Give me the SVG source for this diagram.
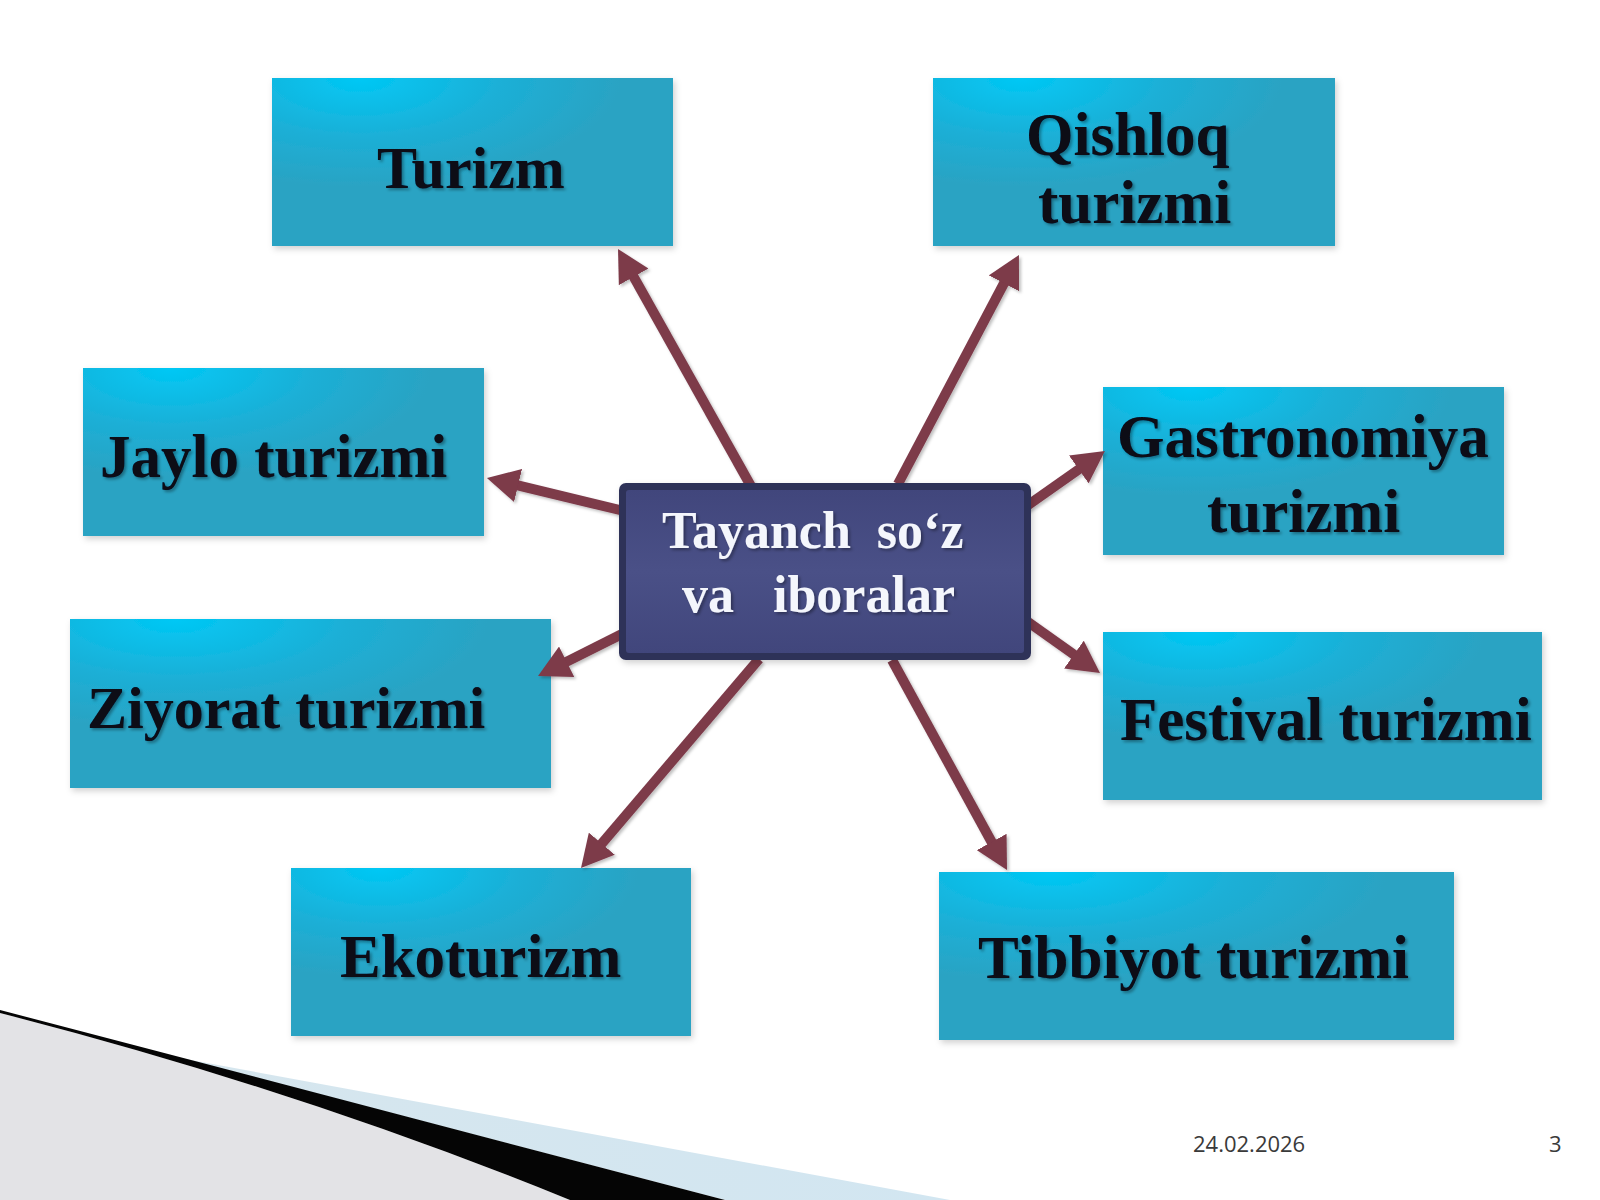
<svg xmlns="http://www.w3.org/2000/svg" width="1600" height="1200" viewBox="0 0 1600 1200">
  <defs>
    <radialGradient id="boxGrad" cx="0.22" cy="0" r="0.65" fx="0.22" fy="0">
      <stop offset="0" stop-color="#00C8F5"/>
      <stop offset="0.55" stop-color="#1CAFD6"/>
      <stop offset="1" stop-color="#2AA3C3"/>
    </radialGradient>
    <linearGradient id="centerGrad" x1="0" y1="0" x2="0" y2="1">
      <stop offset="0" stop-color="#41467C"/>
      <stop offset="0.5" stop-color="#4A5087"/>
      <stop offset="1" stop-color="#41467C"/>
    </linearGradient>
    <linearGradient id="blueSwoosh" x1="0" y1="0" x2="1" y2="0">
      <stop offset="0" stop-color="#d6e6ee"/>
      <stop offset="1" stop-color="#d2e6f1"/>
    </linearGradient>
    <filter id="boxShadow" x="-5%" y="-5%" width="112%" height="115%">
      <feDropShadow dx="2" dy="3" stdDeviation="3" flood-color="#000" flood-opacity="0.18"/>
    </filter>
    <filter id="textShadow" x="-5%" y="-20%" width="110%" height="140%">
      <feDropShadow dx="2" dy="2" stdDeviation="1.5" flood-color="#000" flood-opacity="0.35"/>
    </filter>
    <filter id="arrowShadow" x="-20%" y="-20%" width="140%" height="140%">
      <feDropShadow dx="2" dy="2" stdDeviation="1.5" flood-color="#000" flood-opacity="0.25"/>
    </filter>
    <marker id="head" viewBox="0 0 32 34" refX="12" refY="17" markerWidth="32" markerHeight="34" markerUnits="userSpaceOnUse" orient="auto">
      <path d="M0,0 L32,17 L0,34 Z" fill="#7D3A4A"/>
    </marker>
    <style>
      .box { fill: url(#boxGrad); filter: url(#boxShadow); }
      .lbl { font-family: "Liberation Serif", "Times New Roman", serif; font-weight: bold; font-size: 61px; fill: #080818; filter: url(#textShadow); }
      .clbl { font-family: "Liberation Serif", "Times New Roman", serif; font-weight: bold; font-size: 52px; fill: #F4F6FC; filter: url(#textShadow); }
      .conn { stroke: #7D3A4A; stroke-width: 10; fill: none; marker-end: url(#head); }
      .foot { font-family: "Open Sans", "Noto Sans", sans-serif; font-size: 22px; fill: #3a3a3a; }
    </style>
  </defs>

  <rect x="0" y="0" width="1600" height="1200" fill="#ffffff"/>

  <!-- bottom-left decoration -->
  <g id="decoration">
    <path d="M0,1013 Q300,1090 570,1200 L0,1200 Z" fill="#e3e3e6"/>
    <path d="M180,1058 L950,1200 L725,1200 Z" fill="url(#blueSwoosh)"/>
    <path d="M0,1010 L725,1200 L570,1200 Q300,1090 0,1013 Z" fill="#050505"/>
  </g>

  <g id="node-turizm">
    <rect class="box" x="272" y="78" width="401" height="168"/>
    <text class="lbl" x="377" y="188" style="font-size:60px">Turizm</text>
  </g>
  <g id="node-qishloq">
    <rect class="box" x="933" y="78" width="402" height="168"/>
    <text class="lbl" x="1026" y="155">Qishloq</text>
    <text class="lbl" x="1038" y="223">turizmi</text>
  </g>
  <g id="node-jaylo">
    <rect class="box" x="83" y="368" width="401" height="168"/>
    <text class="lbl" x="100" y="477">Jaylo turizmi</text>
  </g>
  <g id="node-gastronomiya">
    <rect class="box" x="1103" y="387" width="401" height="168"/>
    <text class="lbl" x="1117" y="457">Gastronomiya</text>
    <text class="lbl" x="1207" y="532">turizmi</text>
  </g>
  <g id="node-ziyorat">
    <rect class="box" x="70" y="619" width="481" height="169"/>
    <text class="lbl" x="87" y="728" style="font-size:60px">Ziyorat turizmi</text>
  </g>
  <g id="node-festival">
    <rect class="box" x="1103" y="632" width="439" height="168"/>
    <text class="lbl" x="1120" y="740">Festival turizmi</text>
  </g>
  <g id="node-ekoturizm">
    <rect class="box" x="291" y="868" width="400" height="168"/>
    <text class="lbl" x="340" y="977">Ekoturizm</text>
  </g>
  <g id="node-tibbiyot">
    <rect class="box" x="939" y="872" width="515" height="168"/>
    <text class="lbl" x="978" y="978">Tibbiyot turizmi</text>
  </g>

  <g id="connectors" filter="url(#arrowShadow)">
    <line class="conn" x1="752" y1="488" x2="627.8" y2="266.4"/>
    <line class="conn" x1="898" y1="484" x2="1009.6" y2="272.7"/>
    <line class="conn" x1="624" y1="511" x2="506.4" y2="482.7"/>
    <line class="conn" x1="1021" y1="510" x2="1088.6" y2="462.5"/>
    <line class="conn" x1="1021" y1="617" x2="1083.7" y2="661.5"/>
    <line class="conn" x1="622" y1="634" x2="555.9" y2="667.1"/>
    <line class="conn" x1="759" y1="659" x2="594" y2="852.8"/>
    <line class="conn" x1="892" y1="660" x2="997.4" y2="852.5"/>
  </g>

  <g id="node-center">
    <rect x="619" y="483" width="412" height="177" rx="7" fill="#2E3259" filter="url(#boxShadow)"/>
    <rect x="626" y="490" width="398" height="163" rx="3" fill="url(#centerGrad)"/>
    <text class="clbl" x="662" y="548" xml:space="preserve">Tayanch  so‘z</text>
    <text class="clbl" x="682" y="612" xml:space="preserve">va   iboralar</text>
  </g>

  <g id="footer">
    <text class="foot" x="1193" y="1152">24.02.2026</text>
    <text class="foot" x="1549" y="1152">3</text>
  </g>
</svg>
